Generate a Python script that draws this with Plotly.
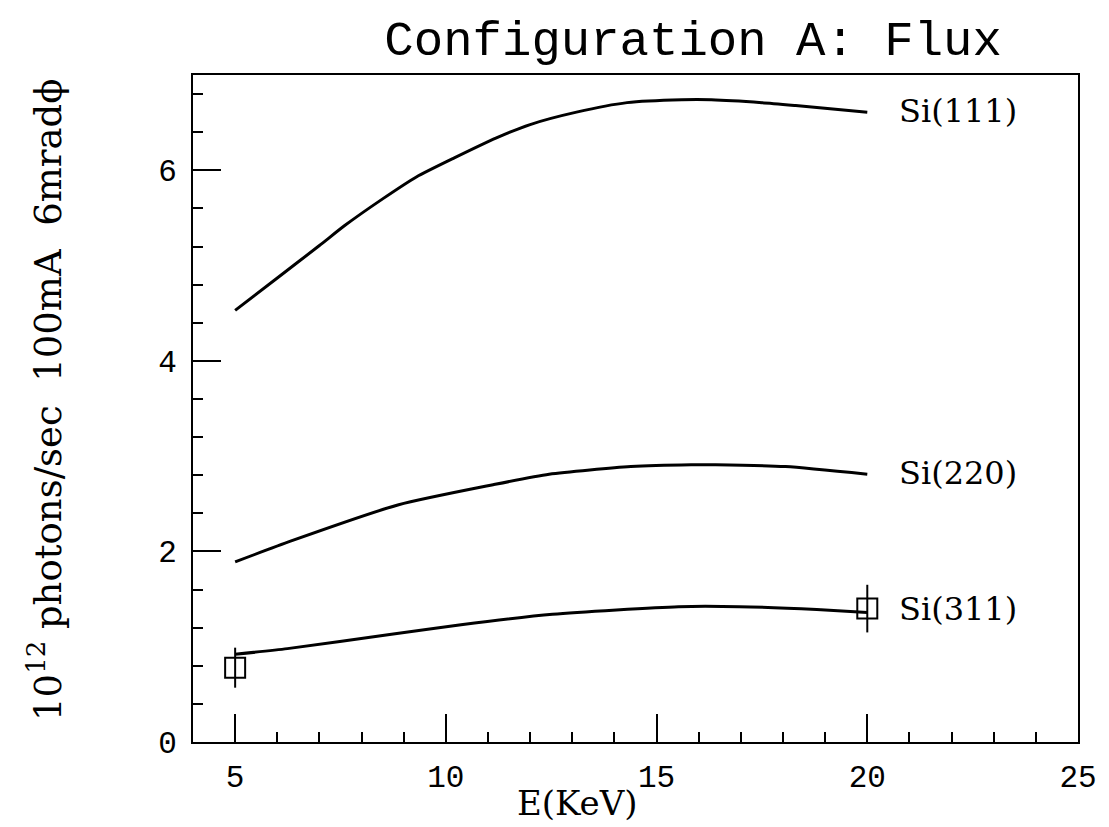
import plotly.graph_objects as go

# Si(111) curve
si111_x = [5, 6, 7, 7.6, 8.5, 9.3, 10.2, 11.2, 12, 13.1, 14.3, 15.6, 16.3, 17.5, 18.3, 20]
si111_y = [4.53, 4.87, 5.21, 5.42, 5.70, 5.93, 6.13, 6.34, 6.48, 6.61, 6.71, 6.74, 6.74, 6.71, 6.68, 6.61]

# Si(220) curve
si220_x = [5, 6.33, 8.88, 11.12, 12.45, 14.39, 15.82, 16.4, 18.06, 20]
si220_y = [1.89, 2.11, 2.49, 2.70, 2.81, 2.89, 2.91, 2.91, 2.89, 2.81]

# Si(311) curve
si311_x = [5, 6.24, 8.71, 10.36, 12.53, 15.52, 16.96, 18.8, 20]
si311_y = [0.92, 0.98, 1.13, 1.23, 1.34, 1.42, 1.42, 1.39, 1.36]

# Si(311) measured points with error bars
pts_x = [5, 20]
pts_y = [0.78, 1.40]
pts_err = [0.21, 0.25]

labels = ["Si(111)", "Si(220)", "Si(311)"]
label_y = [6.62, 2.82, 1.40]
label_x = 20.7

title_text = "Configuration A: Flux"
x_title = "E(KeV)"
y_title = "10<sup>12</sup> photons/sec  100mA  6mrad\u03d5"

fig = go.Figure()
line_style = dict(color="black", width=3)
for xs, ys in [(si111_x, si111_y), (si220_x, si220_y), (si311_x, si311_y)]:
    fig.add_trace(go.Scatter(x=xs, y=ys, mode="lines", line=dict(**line_style, shape="spline", smoothing=0.6),
                             showlegend=False, hoverinfo="skip"))

fig.add_trace(go.Scatter(
    x=pts_x, y=pts_y, mode="markers",
    marker=dict(symbol="square-open", size=20, color="black", line=dict(width=2)),
    error_y=dict(type="data", array=pts_err, visible=True, color="black", thickness=2, width=0),
    showlegend=False, hoverinfo="skip"))

serif = "DejaVu Serif"
for t, yv in zip(labels, label_y):
    fig.add_annotation(x=label_x, y=yv, text=t, showarrow=False, xanchor="left", yanchor="middle",
                       font=dict(family=serif, size=32, color="black"))

fig.add_annotation(xref="paper", yref="paper", x=0.435, y=-0.092, text=x_title, showarrow=False,
                   xanchor="center", yanchor="middle", font=dict(family=serif, size=34, color="black"))
fig.add_annotation(xref="paper", yref="paper", x=-0.166, y=0.513, text=y_title, showarrow=False,
                   textangle=-90, xanchor="center", yanchor="middle",
                   font=dict(family=serif, size=37, color="black"))

axis_common = dict(showgrid=False, zeroline=False, showline=True, linecolor="black", linewidth=2,
                   mirror=True, ticks="inside", ticklen=28, tickwidth=2, tickcolor="black",
                   tickfont=dict(family="Liberation Mono", size=31, color="black"))

fig.update_xaxes(range=[4, 25], tick0=0, dtick=5, ticklabelstandoff=6,
                 minor=dict(ticks="inside", ticklen=10, tickwidth=2, dtick=1, tick0=0, tickcolor="black"),
                 **axis_common)
fig.update_yaxes(range=[0, 7], tick0=0, dtick=2, ticklabelstandoff=8,
                 minor=dict(ticks="inside", ticklen=10, tickwidth=2, dtick=0.4, tick0=0, tickcolor="black"),
                 **axis_common)

fig.update_layout(
    width=1109, height=827,
    margin=dict(l=193, r=23, t=75, b=85),
    paper_bgcolor="white", plot_bgcolor="white",
    title=dict(text=title_text, x=0.625, xanchor="center", y=1 - 38 / 827, yanchor="middle",
               font=dict(family="Liberation Mono", size=49, color="black")),
)

fig.write_html("out.html")
